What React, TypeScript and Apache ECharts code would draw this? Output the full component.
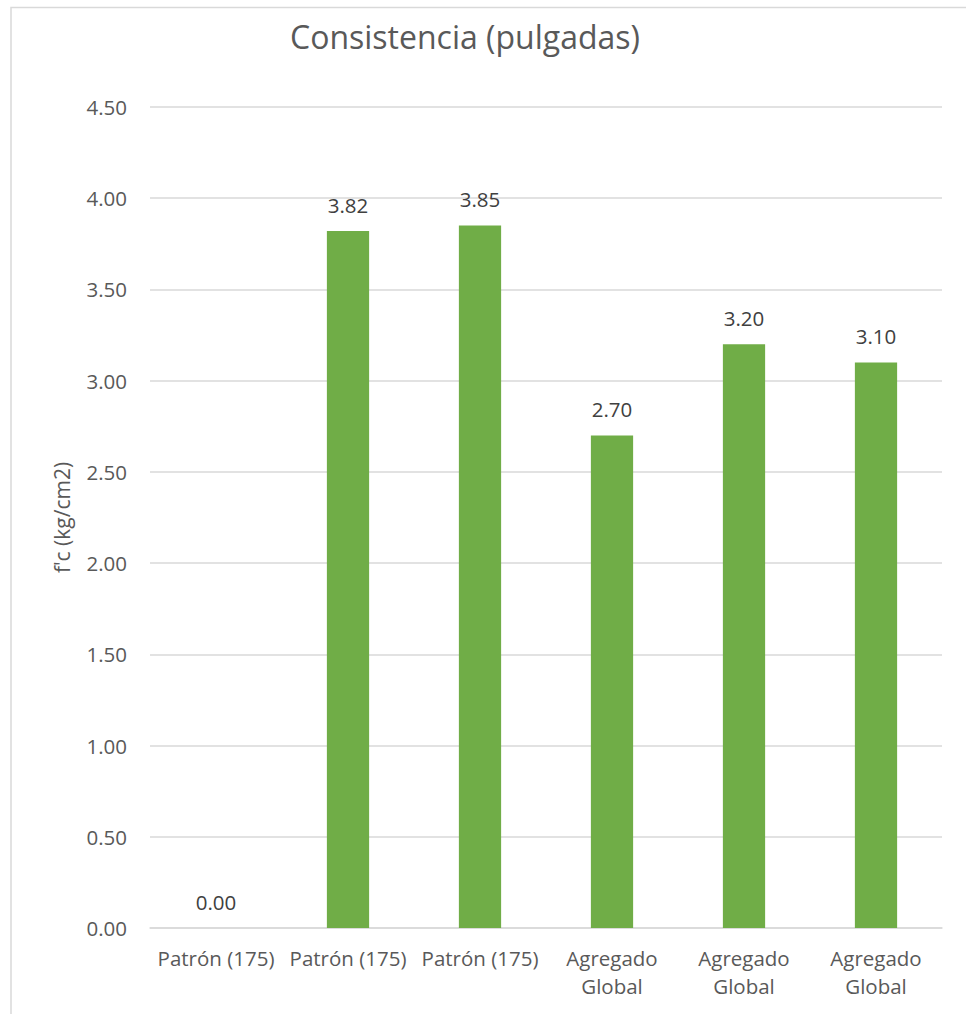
import React, { useEffect, useRef } from "react";
import * as echarts from "echarts";

// Slump test results per mix
const categories = [
  "Patrón (175)",
  "Patrón (175)",
  "Patrón (175)",
  "Agregado\nGlobal",
  "Agregado\nGlobal",
  "Agregado\nGlobal",
];
const slumpValues = [0.0, 3.82, 3.85, 2.7, 3.2, 3.1];

const FONT = "'Open Sans', 'Noto Sans', sans-serif";

export default function App() {
  const ref = useRef<HTMLDivElement>(null);

  useEffect(() => {
    if (!ref.current) return;
    const chart = echarts.init(ref.current, undefined, { renderer: "svg" });
    chart.setOption({
      animation: false,
      backgroundColor: "#ffffff",
      textStyle: { fontFamily: FONT },
      title: {
        text: "Consistencia (pulgadas)",
        left: 460,
        textAlign: "center",
        top: 15,
        textStyle: {
          fontFamily: FONT,
          fontSize: 32,
          fontWeight: "normal",
          color: "#595959",
        },
      },
      graphic: [
        {
          type: "rect",
          shape: { x: 11, y: 7.5, width: 1000, height: 1100 },
          style: { fill: "none", stroke: "#d9d9d9", lineWidth: 1.5 },
          silent: true,
        },
      ],
      grid: { left: 150, right: 24, top: 107, bottom: 86 },
      xAxis: {
        type: "category",
        data: categories,
        axisLine: { show: true, lineStyle: { color: "#d9d9d9", width: 1.5 } },
        axisTick: { show: false },
        axisLabel: {
          color: "#595959",
          fontSize: 20.5,
          fontFamily: FONT,
          margin: 16,
          lineHeight: 28,
          interval: 0,
        },
      },
      yAxis: {
        type: "value",
        min: 0,
        max: 4.5,
        interval: 0.5,
        name: "f'c (kg/cm2)",
        nameLocation: "middle",
        nameGap: 78,
        nameTextStyle: { color: "#595959", fontSize: 21, fontFamily: FONT },
        axisLine: { show: false },
        axisTick: { show: false },
        axisLabel: {
          color: "#595959",
          fontSize: 20.5,
          fontFamily: FONT,
          margin: 23,
          formatter: (v: number) => v.toFixed(2),
        },
        splitLine: { lineStyle: { color: "#d9d9d9", width: 1.5 } },
      },
      series: [
        {
          type: "bar",
          data: slumpValues,
          barWidth: "32%",
          itemStyle: { color: "#70ad47" },
          label: {
            show: true,
            position: "top",
            distance: 16,
            color: "#404040",
            fontSize: 20.5,
            fontFamily: FONT,
            formatter: (p: any) => Number(p.value).toFixed(2),
          },
        },
      ],
    });
    return () => chart.dispose();
  }, []);

  return (
    <div
      ref={ref}
      style={{ position: "absolute", left: 0, top: 0, width: 966, height: 1014 }}
    />
  );
}
